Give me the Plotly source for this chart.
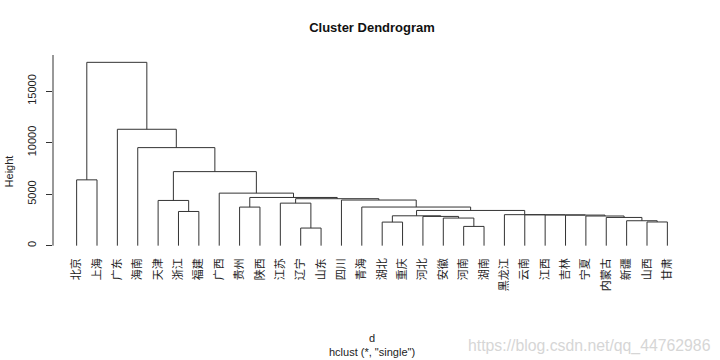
import plotly.graph_objects as go

# ---- data ----
labels = ["北京", "上海", "广东", "海南", "天津", "浙江", "福建", "广西", "贵州", "陕西",
          "江苏", "辽宁", "山东", "四川", "青海", "湖北", "重庆", "河北", "安徽", "河南",
          "湖南", "黑龙江", "云南", "江西", "吉林", "宁夏", "内蒙古", "新疆", "山西", "甘肃"]

# R hclust-style merge matrix: negative = leaf (1-based), positive = earlier merge step
merge_left = [-12, -20, -16, -29, -28, -19, -27, -18, -26, 3,
              -25, -24, -23, -22, -6, 10, -9, -15, -11, -5,
              -14, 19, 17, -8, -1, 20, -4, -3, 25]
merge_right = [-13, -21, -17, -30, 4, 2, 5, 6, 7, 8,
               9, 11, 12, 13, -7, 14, -10, 16, 1, 15,
               18, 21, 22, 23, -2, 24, 26, 27, 28]
merge_height = [1710, 1870, 2290, 2300, 2420, 2680, 2740, 2840, 2880, 2900,
                2970, 2985, 2995, 3010, 3320, 3420, 3745, 3750, 4130, 4390,
                4430, 4560, 4680, 5100, 6390, 7190, 9520, 11300, 17800]

y_ticks = [0, 5000, 10000, 15000]

# ---- build dendrogram segments ----
n = len(labels)
node_x, node_h = {}, {}


def child(c):
    if c < 0:
        return float(-c), 0.0
    return node_x[c], node_h[c]


xs, ys = [], []
for i, (a, b, h) in enumerate(zip(merge_left, merge_right, merge_height), start=1):
    xa, ha = child(a)
    xb, hb = child(b)
    xs += [xa, xa, xb, xb, None]
    ys += [ha, h, h, hb, None]
    node_x[i] = (xa + xb) / 2
    node_h[i] = h

fig = go.Figure()
fig.add_trace(go.Scatter(x=xs, y=ys, mode="lines",
                         line=dict(color="#333333", width=1),
                         hoverinfo="skip", showlegend=False))

# ---- layout geometry (page pixel coords) ----
FW, FH = 720, 360
L, R, T, B = 53.4, 690.6, 54.7, 253.4
W, H = R - L, B - T
ymax = max(merge_height)
yr = [-0.04 * ymax, 1.04 * ymax]


def px(x):
    return (x - L) / W


def py(y):
    return (B - y) / H


latin = "Liberation Sans, Arial, sans-serif"
cjk = "Noto Sans CJK SC, sans-serif"

fig.update_layout(
    width=FW, height=FH,
    margin=dict(l=L, r=FW - R, t=T, b=FH - B, pad=0, autoexpand=False),
    paper_bgcolor="white", plot_bgcolor="white",
    font=dict(family=latin, color="#222222", size=11),
    title=dict(text="<b>Cluster Dendrogram</b>", x=0.5, xref="paper",
               y=1 - 27 / FH, yanchor="middle", xanchor="center",
               font=dict(size=13, family=latin, color="#111111")),
    xaxis=dict(range=[1 - 0.04 * (n - 1), n + 0.04 * (n - 1)],
               tickvals=list(range(1, n + 1)), ticktext=labels,
               tickangle=-90, ticks="", showgrid=False, zeroline=False,
               showline=False, automargin=False,
               tickfont=dict(family=cjk, size=11, color="#222222"),
               ticklabelstandoff=2),
    yaxis=dict(range=yr, tickvals=y_ticks, ticktext=[str(v) for v in y_ticks],
               tickangle=-90, ticks="outside", ticklen=6, tickcolor="#333333",
               showgrid=False, zeroline=False, showline=False, automargin=False,
               tickfont=dict(family=latin, size=11, color="#222222"),
               ticklabelstandoff=6),
)

# y axis line from 0 to top of plot region
fig.add_shape(type="line", xref="paper", yref="y", x0=0, x1=0, y0=0, y1=yr[1],
              line=dict(color="#333333", width=1))

common = dict(xref="paper", yref="paper", showarrow=False, xanchor="center", yanchor="middle")
fig.add_annotation(text="Height", x=px(9), y=py(172), textangle=-90,
                   font=dict(size=11, family=latin, color="#222222"), **common)
fig.add_annotation(text='d<br>hclust (*, "single")', x=px(372), y=py(346), align="center",
                   font=dict(size=11, family=latin, color="#222222"), **common)
fig.add_annotation(text="https://blog.csdn.net/qq_44762986", x=px(589), y=py(347),
                   font=dict(size=15.8, family=latin, color="#d6d6d6"), **common)

fig.write_html("out.html", config={"displayModeBar": False},
               post_script="document.body.style.margin='0';")
